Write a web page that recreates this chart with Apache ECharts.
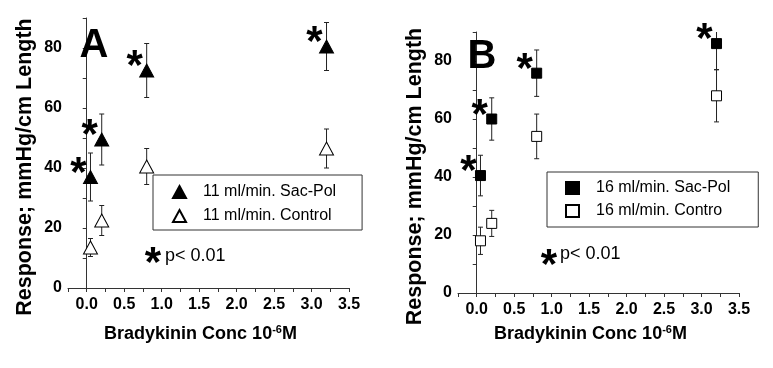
<!DOCTYPE html>
<html>
<head>
<meta charset="utf-8">
<script src="https://cdn.jsdelivr.net/npm/echarts@6/dist/echarts.min.js"></script>
<style>
html,body{margin:0;padding:0;background:#fff;}
#chart{width:773px;height:368px;}
</style>
</head>
<body>
<div id="chart"></div>
<script>
// ---- data ----
var conc = [0.05, 0.2, 0.8, 3.2];
var sacPolA = [37, 49.5, 72.5, 80.5];
var sacPolAErr = [8, 8.5, 9, 8];
var controlA = [13.5, 22.5, 40.5, 46.5];
var controlAErr = [3, 5, 6, 6.5];
var sacPolB = [40.5, 60, 75.8, 86];
var sacPolBErr = [7, 7.3, 8, 9];
var controlB = [18, 24, 54, 68];
var controlBErr = [4.7, 4.5, 7.7, 9];
var xTickValues = [-0.25, 0, 0.25, 0.5, 0.75, 1, 1.25, 1.5, 1.75, 2, 2.25, 2.5, 2.75, 3, 3.25, 3.5];
var xLabelValues = [0, 0.5, 1, 1.5, 2, 2.5, 3, 3.5];
var xTickLabels = ['0.0', '0.5', '1.0', '1.5', '2.0', '2.5', '3.0', '3.5'];
var yTickValues = [0, 10, 20, 30, 40, 50, 60, 70, 80, 90];
var yLabelValues = [0, 20, 40, 60, 80];
var nameSacA = '11 ml/min. Sac-Pol', nameCtlA = '11 ml/min. Control';
var nameSacB = '16 ml/min. Sac-Pol', nameCtlB = '16 ml/min. Contro';

var FONT = '"Liberation Sans", Arial, Helvetica, sans-serif';
var INK = '#000';

function pts(xs, ys) { return xs.map(function (x, i) { return [x, ys[i]]; }); }
function errs(xs, ys, es) { return xs.map(function (x, i) { return [x, ys[i] - es[i], ys[i] + es[i]]; }); }

function errRender(params, api) {
  var x = api.value(0), lo = api.value(1), hi = api.value(2);
  var a = api.coord([x, hi]), b = api.coord([x, lo]);
  var w = 2.5, st = { stroke: '#222', lineWidth: 1 };
  return {
    type: 'group', children: [
      { type: 'line', shape: { x1: a[0], y1: a[1], x2: b[0], y2: b[1] }, style: st },
      { type: 'line', shape: { x1: a[0] - w, y1: a[1], x2: a[0] + w, y2: a[1] }, style: st },
      { type: 'line', shape: { x1: b[0] - w, y1: b[1], x2: b[0] + w, y2: b[1] }, style: st }
    ]
  };
}

function xAxis(gi) {
  return {
    type: 'value', gridIndex: gi, min: -0.25, max: 3.5,
    name: 'Bradykinin Conc 10{sup|-6}M', nameLocation: 'middle', nameGap: gi === 0 ? 36 : 31,
    nameTextStyle: {
      fontFamily: FONT, fontSize: 18, fontWeight: 'bold', color: INK, padding: [0, 16, 0, 0],
      rich: { sup: { fontFamily: FONT, fontSize: 11, fontWeight: 'bold', color: INK, verticalAlign: 'top', padding: [0, 0, 9, 0] } }
    },
    axisLine: { show: true, onZero: false, lineStyle: { color: '#333', width: 1 } },
    axisTick: { show: true, inside: false, length: 4, customValues: xTickValues, lineStyle: { color: '#333' } },
    axisLabel: {
      show: true, margin: 9, customValues: xLabelValues,
      formatter: function (v) { var i = xLabelValues.indexOf(v); return i >= 0 ? xTickLabels[i] : ''; },
      fontFamily: FONT, fontSize: 16, fontWeight: 'bold', color: INK
    },
    splitLine: { show: false }
  };
}
function yAxis(gi) {
  return {
    type: 'value', gridIndex: gi, min: 0, max: 90,
    name: 'Response; mmHg/cm Length', nameLocation: 'middle', nameGap: 32, nameRotate: 90,
    nameTextStyle: { fontFamily: FONT, fontSize: 21.5, fontWeight: 'bold', color: INK, padding: [0, 28, 0, 0] },
    axisLine: { show: true, lineStyle: { color: '#333', width: 1 } },
    axisTick: { show: true, inside: false, length: 4, customValues: yTickValues, lineStyle: { color: '#333' } },
    axisLabel: { show: true, margin: 6, customValues: yLabelValues, fontFamily: FONT, fontSize: 16, fontWeight: 'bold', color: INK },
    splitLine: { show: false }
  };
}

var starLabel = { show: true, formatter: '*', position: 'inside', offset: [-12, -3], fontFamily: FONT, fontSize: 42, fontWeight: 'bold', color: INK };

function legend(left, top, names, pad, gap) {
  return {
    orient: 'vertical', left: left, top: top, data: names, selectedMode: false,
    itemWidth: 13, itemHeight: 12, itemGap: gap, padding: pad,
    borderColor: '#333', borderWidth: 1, backgroundColor: '#fff',
    textStyle: { fontFamily: FONT, fontSize: 16, color: INK, padding: [0, 0, 0, 12] }
  };
}

function txt(x, y, text, size, weight, align) {
  return { type: 'text', x: x, y: y, z: 100, style: { text: text, fontFamily: FONT, fontSize: size, fontWeight: weight, fill: INK, textAlign: align || 'center', textVerticalAlign: 'middle', align: align || 'center', verticalAlign: 'middle' } };
}

var option = {
  backgroundColor: '#fff',
  animation: false,
  grid: [
    { left: 68, top: 18, width: 281, height: 270 },
    { left: 458, top: 32, width: 281, height: 261 }
  ],
  xAxis: [xAxis(0), xAxis(1)],
  yAxis: [yAxis(0), yAxis(1)],
  legend: [
    legend(153, 175, [nameSacA, nameCtlA], [9, 26, 6, 19], 8),
    legend(547, 172, [nameSacB, nameCtlB], [8, 28, 8, 18], 7)
  ],
  graphic: [
    txt(94, 46, 'A', 40, 'bold'),
    txt(482, 57, 'B', 40, 'bold'),
    txt(153, 264, '*', 42, 'bold'),
    txt(165, 256, 'p< 0.01', 18, 'normal', 'left'),
    txt(549, 266, '*', 42, 'bold'),
    txt(560, 254, 'p< 0.01', 18, 'normal', 'left')
  ],
  series: [
    { type: 'custom', name: 'errA1', xAxisIndex: 0, yAxisIndex: 0, renderItem: errRender, data: errs(conc, sacPolA, sacPolAErr), clip: true, z: 1, silent: true },
    { type: 'custom', name: 'errA2', xAxisIndex: 0, yAxisIndex: 0, renderItem: errRender, data: errs(conc, controlA, controlAErr), clip: true, z: 1, silent: true },
    { type: 'custom', name: 'errB1', xAxisIndex: 1, yAxisIndex: 1, renderItem: errRender, data: errs(conc, sacPolB, sacPolBErr), clip: true, z: 1, silent: true },
    { type: 'custom', name: 'errB2', xAxisIndex: 1, yAxisIndex: 1, renderItem: errRender, data: errs(conc, controlB, controlBErr), clip: true, z: 1, silent: true },
    { type: 'scatter', name: nameSacA, xAxisIndex: 0, yAxisIndex: 0, symbol: 'triangle', symbolSize: [14, 13], data: pts(conc, sacPolA),
      itemStyle: { color: '#000', borderColor: '#000', borderWidth: 1, opacity: 1 }, label: starLabel, z: 5 },
    { type: 'scatter', name: nameCtlA, xAxisIndex: 0, yAxisIndex: 0, symbol: 'triangle', symbolSize: [14, 13], data: pts(conc, controlA),
      itemStyle: { color: '#fff', borderColor: '#000', borderWidth: 1, opacity: 1 }, z: 5 },
    { type: 'scatter', name: nameSacB, xAxisIndex: 1, yAxisIndex: 1, symbol: 'rect', symbolSize: 10, data: pts(conc, sacPolB),
      itemStyle: { color: '#000', borderColor: '#000', borderWidth: 1, opacity: 1 }, label: starLabel, z: 5 },
    { type: 'scatter', name: nameCtlB, xAxisIndex: 1, yAxisIndex: 1, symbol: 'rect', symbolSize: 10, data: pts(conc, controlB),
      itemStyle: { color: '#fff', borderColor: '#000', borderWidth: 1, opacity: 1 }, z: 5 }
  ]
};

var chart = echarts.init(document.getElementById('chart'), null, { renderer: 'canvas' });
chart.setOption(option);
</script>
</body>
</html>
